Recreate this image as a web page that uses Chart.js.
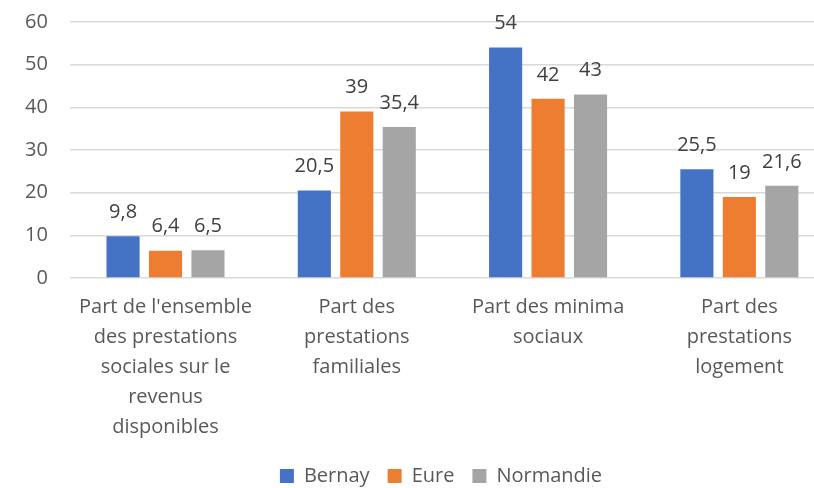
<!DOCTYPE html>
<html>
<head>
<meta charset="utf-8">
<script src="https://cdn.jsdelivr.net/npm/chart.js@4"></script>
<style>
  html, body { margin: 0; padding: 0; background: #fff; overflow: hidden; }
  #wrap { width: 880px; height: 488px; }
</style>
</head>
<body>
<div id="wrap"><canvas id="chart"></canvas></div>
<script>
const categories = [
  ["Part de l'ensemble", "des prestations", "sociales sur le", "revenus", "disponibles"],
  ["Part des", "prestations", "familiales"],
  ["Part des minima", "sociaux"],
  ["Part des", "prestations", "logement"]
];
const bernay = [9.8, 20.5, 54, 25.5];
const eure = [6.4, 39, 42, 19];
const normandie = [6.5, 35.4, 43, 21.6];
const yTicks = [0, 10, 20, 30, 40, 50, 60];

const fontFamily = "'Open Sans', 'Noto Sans', sans-serif";

// étiquettes de valeurs au-dessus des barres
const valueLabels = {
  id: 'valueLabels',
  afterDatasetsDraw(chart) {
    const ctx = chart.ctx;
    ctx.save();
    ctx.font = '20px ' + fontFamily;
    ctx.fillStyle = '#404040';
    ctx.textAlign = 'center';
    ctx.textBaseline = 'bottom';
    chart.data.datasets.forEach((ds, i) => {
      chart.getDatasetMeta(i).data.forEach((bar, j) => {
        ctx.fillText(String(ds.data[j]).replace('.', ','), bar.x, bar.y - 14);
      });
    });
    ctx.restore();
  }
};

// la légende est centrée sur la zone du graphique (comme Excel)
const legendShift = {
  id: 'legendShift',
  afterLayout(chart) {
    chart.legend.left += 16;
    chart.legend.right += 16;
  }
};

new Chart(document.getElementById('chart'), {
  type: 'bar',
  data: {
    labels: categories,
    datasets: [
      { label: 'Bernay', data: bernay, backgroundColor: '#4472c4' },
      { label: 'Eure', data: eure, backgroundColor: '#ed7d31' },
      { label: 'Normandie', data: normandie, backgroundColor: '#a5a5a5' }
    ]
  },
  options: {
    responsive: true,
    maintainAspectRatio: false,
    animation: false,
    layout: { padding: { left: 15, right: 45, top: 0, bottom: -8 } },
    datasets: { bar: { categoryPercentage: 0.666, barPercentage: 0.78 } },
    plugins: {
      legend: {
        position: 'bottom',
        labels: {
          boxWidth: 14, boxHeight: 14, padding: 18,
          color: '#595959',
          font: { family: fontFamily, size: 20 }
        }
      },
      tooltip: { enabled: false }
    },
    scales: {
      x: {
        grid: { display: false },
        border: { display: false },
        ticks: {
          color: '#595959', maxRotation: 0, autoSkip: false, padding: 6,
          font: { family: fontFamily, size: 20, lineHeight: 1.5 }
        }
      },
      y: {
        min: 0, max: 60,
        afterBuildTicks: axis => { axis.ticks = yTicks.map(v => ({ value: v })); },
        grid: { color: '#d9d9d9', lineWidth: 1.5, drawTicks: true, tickLength: 12, tickColor: 'rgba(0,0,0,0)' },
        border: { display: false },
        ticks: {
          color: '#595959', padding: 10,
          font: { family: fontFamily, size: 20 }
        }
      }
    }
  },
  plugins: [valueLabels, legendShift]
});
</script>
</body>
</html>
